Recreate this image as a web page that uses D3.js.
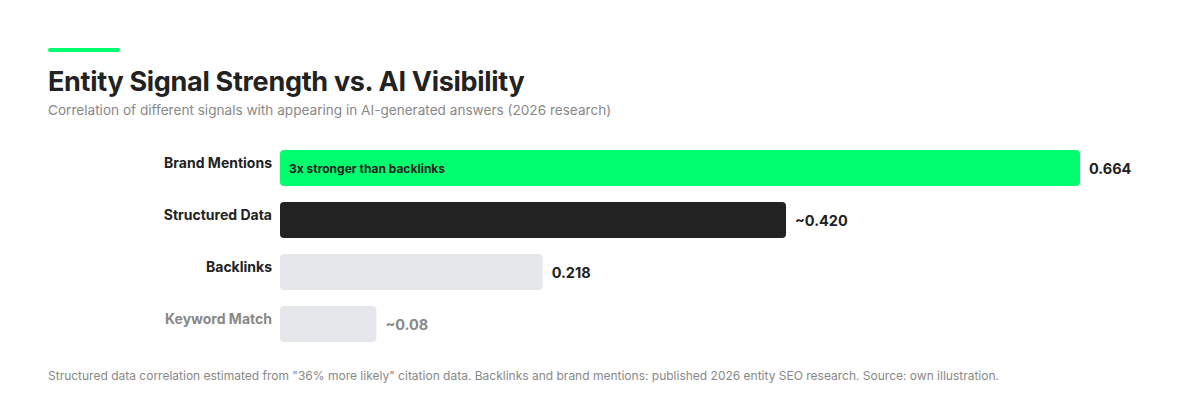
<!DOCTYPE html>
<html>
<head>
<meta charset="utf-8">
<script src="https://cdn.jsdelivr.net/npm/d3@7"></script>
<style>
  html, body { margin: 0; padding: 0; background: #ffffff; }
  svg { display: block; font-family: Inter, "Noto Sans", sans-serif; }
</style>
</head>
<body>
<svg id="chart" width="1200" height="404"></svg>
<script>
const categories = ["Brand Mentions", "Structured Data", "Backlinks", "Keyword Match"];
const values = [0.664, 0.420, 0.218, 0.08];
const valueLabels = ["0.664", "~0.420", "0.218", "~0.08"];
const barColors = ["#00ff6e", "#222222", "#e5e7eb", "#e5e7eb"];
const labelColors = ["#222222", "#222222", "#222222", "#888888"];
const innerLabels = ["3x stronger than backlinks", "", "", ""];

const titleText = "Entity Signal Strength vs. AI Visibility";
const subtitleText = "Correlation of different signals with appearing in AI-generated answers (2026 research)";
const footerText = "Structured data correlation estimated from \"36% more likely\" citation data. Backlinks and brand mentions: published 2026 entity SEO research. Source: own illustration.";

const svg = d3.select("#chart");

svg.append("rect").attr("x", 48).attr("y", 48).attr("width", 72).attr("height", 4)
  .attr("rx", 2).attr("fill", "#00ff6e");

svg.append("text").attr("x", 48).attr("y", 91)
  .attr("font-size", 27).attr("font-weight", 700).attr("fill", "#222")
  .attr("letter-spacing", "-0.3px").text(titleText);

svg.append("text").attr("x", 48).attr("y", 115)
  .attr("font-size", 13.6).attr("fill", "#888").text(subtitleText);

const x = d3.scaleLinear().domain([0, 0.664]).range([280, 1080]);
const yb = d3.scaleBand().domain(categories).range([150, 150 + 52 * 4 - 16]).paddingInner(16 / 52);

const data = categories.map((c, i) => ({c, v: values[i], lab: valueLabels[i], col: barColors[i], lc: labelColors[i], inner: innerLabels[i]}));

const rows = svg.append("g").selectAll("g.row").data(data).join("g").attr("class", "row");

rows.append("rect")
  .attr("x", x(0)).attr("y", d => yb(d.c))
  .attr("width", d => x(d.v) - x(0)).attr("height", yb.bandwidth())
  .attr("rx", 4).attr("fill", d => d.col);

rows.append("text")
  .attr("x", 272).attr("y", d => yb(d.c) + 18)
  .attr("text-anchor", "end").attr("font-size", 14).attr("font-weight", 700)
  .attr("fill", d => d.lc).text(d => d.c);

rows.append("text")
  .attr("x", d => x(d.v) + 9).attr("y", d => yb(d.c) + 24)
  .attr("font-size", 14.5).attr("font-weight", 700)
  .attr("fill", d => d.lc).text(d => d.lab);

rows.filter(d => d.inner).append("text")
  .attr("x", x(0) + 9).attr("y", d => yb(d.c) + 23)
  .attr("font-size", 12).attr("font-weight", 700)
  .attr("fill", "#222").text(d => d.inner);

svg.append("text").attr("x", 48).attr("y", 380)
  .attr("font-size", 12).attr("fill", "#888").text(footerText);
</script>
</body>
</html>
